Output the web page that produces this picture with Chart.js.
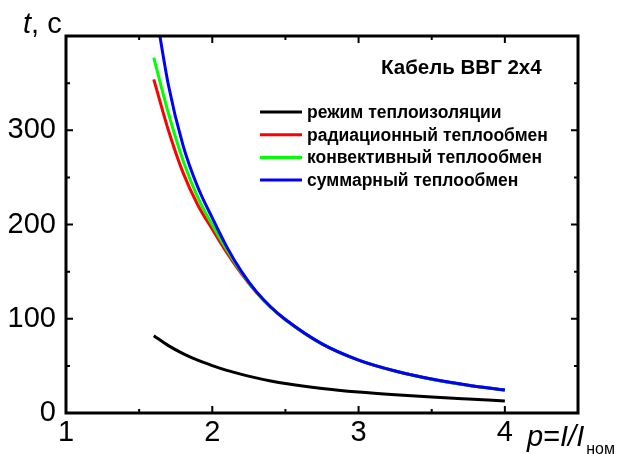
<!DOCTYPE html>
<html>
<head>
<meta charset="utf-8">
<script src="https://cdn.jsdelivr.net/npm/chart.js@4.4.1/dist/chart.umd.min.js"></script>
<style>
  html, body { margin: 0; padding: 0; background: #fff; }
  #wrap { width: 618px; height: 454px; }
</style>
</head>
<body>
<div id="wrap"><canvas id="heatChart" width="618" height="454"></canvas></div>
<script>
// current ratio p = I/Iном
const pValues = [1.6, 1.7, 1.8, 1.9, 2.0, 2.1, 2.2, 2.3, 2.4, 2.5, 2.75, 3.0, 3.25, 3.5, 3.75, 4.0];

// heating time t, s
const insulated  = [82, 71.5, 63, 56, 50.3, 45.2, 41, 37.3, 34, 31.2, 26, 22.2, 19.3, 16.9, 14.8, 12.8];
const radiative  = [354, 300, 255, 221, 195, 170, 147.5, 128, 112, 99, 73.2, 56.1, 44.5, 35.9, 29.4, 24.4];
const convective = [377, 318, 268, 229, 199.5, 173, 149, 128.5, 112.2, 99, 73.3, 56.1, 44.5, 35.9, 29.4, 24.4];
const combined   = [440, 348, 284, 240, 207, 176, 150, 129, 112.5, 99.2, 73.4, 56.2, 44.6, 36, 29.5, 24.5];

const xTicks = [1, 2, 3, 4];
const yTicks = [0, 100, 200, 300];

const seriesNames = [
    'режим теплоизоляции',
    'радиационный теплообмен',
    'конвективный теплообмен',
    'суммарный теплообмен'
];
const seriesColors = ['#000000', '#ff0000', '#00ff00', '#0000ff'];
const cableName = 'Кабель ВВГ 2х4';

const FONT = '"Liberation Sans", Arial, sans-serif';

function toPoints(values) {
    return pValues.map((p, i) => ({ x: p, y: values[i] }));
}

// frame, inward ticks on all four sides, legend and axis titles
const decorPlugin = {
    id: 'decor',
    afterDatasetsDraw(chart) {
        const { ctx, chartArea: a, scales } = chart;
        const xs = scales.x, ys = scales.y;
        ctx.save();
        ctx.strokeStyle = '#000';
        ctx.lineCap = 'butt';

        ctx.lineWidth = 2;
        for (let v = 1; v <= 4.5001; v += 0.5) {
            const px = xs.getPixelForValue(v);
            const len = Number.isInteger(v) ? 7 : 4;
            ctx.beginPath();
            ctx.moveTo(px, a.bottom); ctx.lineTo(px, a.bottom - len);
            ctx.moveTo(px, a.top); ctx.lineTo(px, a.top + len);
            ctx.stroke();
        }
        for (let v = 0; v <= 400; v += 50) {
            const py = ys.getPixelForValue(v);
            const len = v % 100 === 0 ? 7 : 4;
            ctx.beginPath();
            ctx.moveTo(a.left, py); ctx.lineTo(a.left + len, py);
            ctx.moveTo(a.right, py); ctx.lineTo(a.right - len, py);
            ctx.stroke();
        }

        ctx.lineWidth = 3;
        ctx.strokeRect(a.left, a.top, a.right - a.left, a.bottom - a.top);
        ctx.restore();
    },
    afterDraw(chart) {
        const { ctx } = chart;
        ctx.save();
        ctx.fillStyle = '#000';
        ctx.textBaseline = 'middle';

        ctx.font = 'bold 20.5px ' + FONT;
        ctx.textAlign = 'left';
        ctx.fillText(cableName, 381, 68);

        ctx.font = 'bold 17.5px ' + FONT;
        seriesNames.forEach((name, i) => {
            const y = 112 + i * 22.7;
            ctx.strokeStyle = seriesColors[i];
            ctx.lineWidth = 3;
            ctx.beginPath();
            ctx.moveTo(260, y); ctx.lineTo(302, y);
            ctx.stroke();
            ctx.fillText(name, 307, y + 1);
        });

        // y title: t, с
        ctx.textBaseline = 'alphabetic';
        let x = 23;
        ctx.font = 'italic 29px ' + FONT;
        ctx.fillText('t', x, 33);
        x += ctx.measureText('t').width;
        ctx.font = '29px ' + FONT;
        ctx.fillText(', с', x, 33);

        // x title: p=I/Iном
        x = 527;
        const base = 446;
        ctx.font = 'italic 29px ' + FONT;
        ctx.fillText('p', x, base);
        x += ctx.measureText('p').width;
        ctx.font = '29px ' + FONT;
        ctx.fillText('=', x, base);
        x += ctx.measureText('=').width;
        ctx.font = 'italic 29px ' + FONT;
        ctx.fillText('I/I', x, base);
        x += ctx.measureText('I/I').width + 2;
        ctx.font = '16px ' + FONT;
        ctx.fillText('ном', x, 454);
        ctx.restore();
    }
};

// blue is drawn last so it lies on top where the curves meet
const datasets = [combined, convective, radiative, insulated].map((vals, k) => {
    const idx = 3 - k;
    return {
        label: seriesNames[idx],
        data: toPoints(vals),
        borderColor: seriesColors[idx],
        borderWidth: 3,
        pointRadius: 0,
        fill: false,
        cubicInterpolationMode: 'monotone'
    };
});

new Chart(document.getElementById('heatChart'), {
    type: 'line',
    data: { datasets },
    options: {
        responsive: false,
        animation: false,
        events: [],
        layout: { padding: { top: 36, right: 40, left: 0, bottom: 0 } },
        plugins: {
            legend: { display: false },
            tooltip: { enabled: false },
            title: { display: false }
        },
        scales: {
            x: {
                type: 'linear',
                min: 1,
                max: 4.5,
                grid: { display: false, drawTicks: false },
                border: { display: false },
                afterBuildTicks: s => { s.ticks = xTicks.map(v => ({ value: v })); },
                ticks: {
                    padding: 3,
                    autoSkip: false,
                    color: '#000',
                    font: { family: FONT, size: 29 },
                    maxRotation: 0
                },
                afterFit: s => { s.height = 41; }
            },
            y: {
                min: 0,
                max: 400,
                grid: { display: false, drawTicks: false },
                border: { display: false },
                afterBuildTicks: s => { s.ticks = yTicks.map(v => ({ value: v })); },
                ticks: {
                    padding: 10,
                    autoSkip: false,
                    color: '#000',
                    font: { family: FONT, size: 29 }
                },
                afterFit: s => { s.width = 66; }
            }
        }
    },
    plugins: [decorPlugin]
});
</script>
</body>
</html>
